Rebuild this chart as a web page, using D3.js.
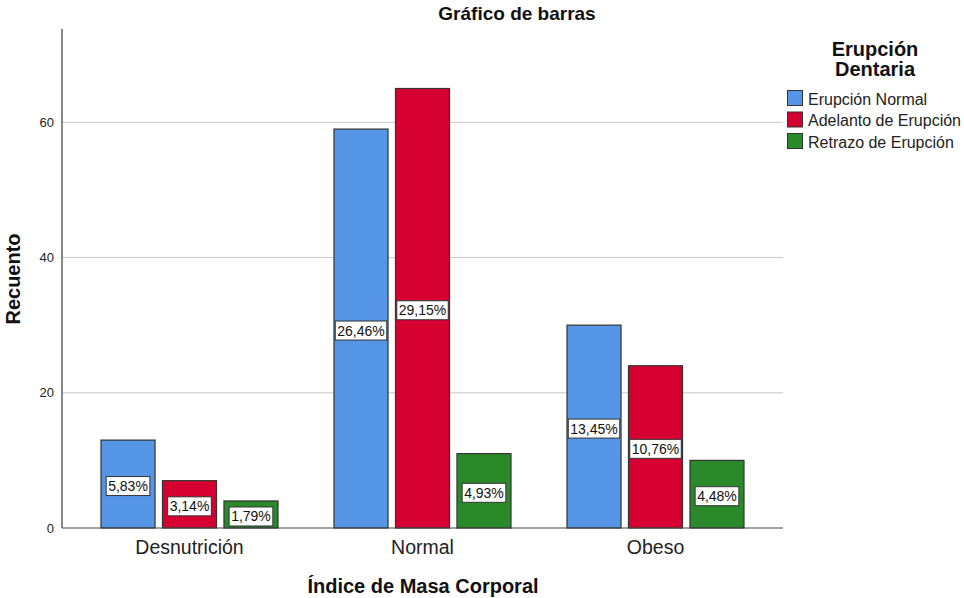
<!DOCTYPE html>
<html><head><meta charset="utf-8">
<script src="https://cdn.jsdelivr.net/npm/d3@7"></script>
<style>body{margin:0;background:#fff;} text{font-family:Arial,"Liberation Sans",sans-serif;}</style>
</head><body>
<svg id="c" width="964" height="598"></svg>
<script>
const categories = ["Desnutrición", "Normal", "Obeso"];
const seriesNames = ["Erupción Normal", "Adelanto de Erupción", "Retrazo de Erupción"];
const erupcionNormal = [13, 59, 30];
const adelanto = [7, 65, 24];
const retrazo = [4, 11, 10];
const percentLabels = [["5,83%","26,46%","13,45%"],["3,14%","29,15%","10,76%"],["1,79%","4,93%","4,48%"]];
const yTicks = [0, 20, 40, 60];
const colors = ["#5596e6", "#d5002f", "#2a8a2a"];

const series = [erupcionNormal, adelanto, retrazo];
const svg = d3.select("#c");
const pL = 62, pR = 783, pT = 29, pB = 528;

const x = d3.scaleBand().domain(categories).range([73, 772]).paddingInner(0).paddingOuter(0);
const xs = d3.scaleBand().domain(d3.range(3)).range([0, 178]).paddingInner(0.105).paddingOuter(0);
const y = d3.scaleLinear().domain([0, 73.8]).range([pB, pT]);

// gridlines
svg.append("g").selectAll("line").data(yTicks.filter(d => d > 0)).join("line")
  .attr("x1", pL).attr("x2", pR).attr("y1", d => y(d)).attr("y2", d => y(d))
  .attr("stroke", "#c8c8c8").attr("stroke-width", 1);

// y axis
const yAxis = svg.append("g").attr("transform", `translate(${pL},0)`)
  .call(d3.axisLeft(y).tickValues(yTicks).tickSize(0).tickPadding(8));
yAxis.select(".domain").remove();
yAxis.selectAll("text").attr("font-size", 13).attr("fill", "#222").attr("font-family", "Arial, Liberation Sans, sans-serif");
svg.append("line").attr("x1", pL).attr("x2", pL).attr("y1", pT).attr("y2", pB)
  .attr("stroke", "#888").attr("stroke-width", 2);

// bars
series.forEach((vals, si) => {
  const g = svg.append("g");
  vals.forEach((v, ci) => {
    const cx = x(categories[ci]) + x.bandwidth() / 2 - 89;
    const bx = cx + xs(si);
    const bw = xs.bandwidth();
    g.append("rect").attr("x", bx + 0.5).attr("y", y(v)).attr("width", bw - 1).attr("height", y(0) - y(v))
      .attr("fill", colors[si]).attr("stroke", "#333").attr("stroke-width", 1.2);
    const box = g.append("rect");
    const my = (y(v) + y(0)) / 2 + 2;
    const t = g.append("text").attr("x", bx + bw / 2).attr("y", my).attr("text-anchor", "middle")
      .attr("dominant-baseline", "central").attr("font-size", 14).attr("fill", "#111").text(percentLabels[si][ci]);
    const bb = t.node().getBBox();
    box.attr("x", bb.x - 2).attr("y", bb.y - 1.5).attr("width", bb.width + 4).attr("height", bb.height + 3)
      .attr("fill", "#fff").attr("stroke", "#333").attr("stroke-width", 1);
  });
});

// x axis baseline
svg.append("line").attr("x1", pL).attr("x2", pR).attr("y1", pB).attr("y2", pB)
  .attr("stroke", "#444").attr("stroke-width", 1);
const xAxis = svg.append("g").attr("transform", `translate(0,${pB})`)
  .call(d3.axisBottom(x).tickSize(0).tickPadding(12));
xAxis.select(".domain").remove();
xAxis.selectAll("text").attr("font-size", 19.5).attr("fill", "#222").attr("font-family", "Arial, Liberation Sans, sans-serif");

// titles
svg.append("text").attr("x", 517).attr("y", 20).attr("text-anchor", "middle").attr("font-size", 19)
  .attr("font-weight", "bold").attr("fill", "#111").text("Gráfico de barras");
svg.append("text").attr("x", 423).attr("y", 593).attr("text-anchor", "middle").attr("font-size", 20)
  .attr("font-weight", "bold").attr("fill", "#111").text("Índice de Masa Corporal");
svg.append("text").attr("transform", "translate(20,279) rotate(-90)").attr("text-anchor", "middle").attr("font-size", 20)
  .attr("font-weight", "bold").attr("fill", "#111").text("Recuento");

// legend
svg.append("text").attr("x", 875).attr("y", 56).attr("text-anchor", "middle").attr("font-size", 20)
  .attr("font-weight", "bold").attr("fill", "#111").text("Erupción");
svg.append("text").attr("x", 875).attr("y", 76).attr("text-anchor", "middle").attr("font-size", 20)
  .attr("font-weight", "bold").attr("fill", "#111").text("Dentaria");
const lg = svg.append("g").selectAll("g").data(seriesNames).join("g")
  .attr("transform", (d, i) => `translate(787,${90 + i * 21.5})`);
lg.append("rect").attr("x", 0.5).attr("y", 0.5).attr("width", 15).attr("height", 15)
  .attr("fill", (d, i) => colors[i]).attr("stroke", "#333").attr("stroke-width", 1);
lg.append("text").attr("x", 21).attr("y", 9).attr("dominant-baseline", "central").attr("font-size", 16)
  .attr("fill", "#222").text(d => d);
</script>
</body></html>
